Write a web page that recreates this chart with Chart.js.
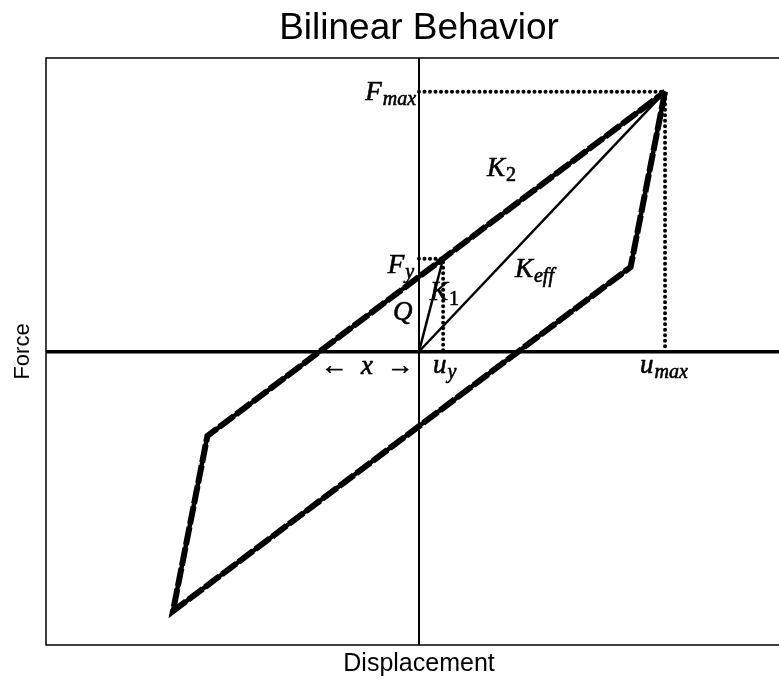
<!DOCTYPE html>
<html>
<head>
<meta charset="utf-8">
<script src="https://cdn.jsdelivr.net/npm/chart.js@4/dist/chart.umd.min.js"></script>
<style>
    html, body { margin: 0; padding: 0; background: #fff; overflow: hidden; }
    #wrap { width: 838px; height: 680px; }
</style>
</head>
<body>
<div id="wrap"><canvas id="myChart" width="838" height="680"></canvas></div>
<script>
// hysteresis loop: displacement / force
const loopX = [10, 8.6, -10, -8.6, 10];
const loopY = [10, 3.25, -10, -3.25, 10];

// initial stiffness K1 and effective stiffness Keff
const k1X = [0, 0.98];
const k1Y = [0, 3.57];
const keffX = [0, 10];
const keffY = [0, 10];

// dotted guides to Fmax / umax and Fy / uy
const fmaxGuideX = [0, 10, 10];
const fmaxGuideY = [10, 10, 0];
const fyGuideX = [0, 0.98, 0.98];
const fyGuideY = [3.57, 3.57, 0];

// math labels
const labelMain = ['F', 'K', 'F', 'K', 'K', 'Q', '\u2190  x  \u2192', 'u', 'u'];
const labelSub = ['max', '2', 'y', '1', 'eff', '', '', 'y', 'max'];
const labelX = [-0.12, 2.76, -0.2, 0.45, 3.9, -1.06, -2.11, 0.57, 8.98];
const labelY = [9.69, 6.77, 3.04, 2.0, 2.85, 1.23, -0.88, -0.81, -0.81];
const labelAlign = ['right', 'left', 'right', 'left', 'left', 'left', 'center', 'left', 'left'];

function pts(xs, ys) {
    return xs.map(function (v, i) { return { x: v, y: ys[i] }; });
}

const frame = {
    id: 'frame',
    afterDraw: function (chart) {
        const a = chart.chartArea;
        const c = chart.ctx;
        c.save();
        c.strokeStyle = '#000';
        c.lineWidth = 1.5;
        c.strokeRect(a.left, a.top, a.right - a.left, a.bottom - a.top);
        c.restore();
    }
};

const mathLabels = {
    id: 'mathLabels',
    afterDatasetsDraw: function (chart) {
        const c = chart.ctx;
        const xs = chart.scales.x, ys = chart.scales.y;
        const mainFont = 'italic 27px "Liberation Serif"';
        c.save();
        c.fillStyle = '#000';
        c.strokeStyle = '#000';
        c.lineWidth = 0.6;
        c.textBaseline = 'alphabetic';
        c.textAlign = 'left';
        labelMain.forEach(function (t, i) {
            const sub = labelSub[i];
            const subFont = (/^\d+$/.test(sub) ? '' : 'italic ') + '20px "Liberation Serif"';
            c.font = mainFont;
            const w1 = c.measureText(t).width + (sub ? 1 : 0);
            c.font = subFont;
            const w2 = sub ? c.measureText(sub).width : 0;
            let px = xs.getPixelForValue(labelX[i]);
            const py = ys.getPixelForValue(labelY[i]);
            if (labelAlign[i] === 'right') px -= w1 + w2;
            if (labelAlign[i] === 'center') px -= (w1 + w2) / 2;
            c.font = mainFont;
            c.fillText(t, px, py);
            c.strokeText(t, px, py);
            if (sub) {
                c.font = subFont;
                c.fillText(sub, px + w1, py + 5);
                c.strokeText(sub, px + w1, py + 5);
            }
        });
        c.restore();
    }
};

function onlyZero(s) { s.ticks = [{ value: 0 }]; }

var ctx = document.getElementById('myChart').getContext('2d');
var myChart = new Chart(ctx, {
    type: 'scatter',
    data: {
        datasets: [
            { data: pts(fmaxGuideX, fmaxGuideY), borderColor: '#000', borderWidth: 4, borderDash: [0, 5.5], borderCapStyle: 'round' },
            { data: pts(fyGuideX, fyGuideY), borderColor: '#000', borderWidth: 4, borderDash: [0, 5.5], borderCapStyle: 'round' },
            { data: pts(k1X, k1Y), borderColor: '#000', borderWidth: 2.5 },
            { data: pts(keffX, keffY), borderColor: '#000', borderWidth: 2.5 },
            { data: pts(loopX, loopY), borderColor: '#000', borderWidth: 4.5 },
            { data: pts(loopX, loopY), borderColor: '#000', borderWidth: 6, borderDash: [18, 3] }
        ]
    },
    options: {
        responsive: false,
        animation: false,
        devicePixelRatio: 1,
        showLine: true,
        elements: { point: { radius: 0 }, line: { tension: 0, fill: false } },
        layout: { padding: 0 },
        plugins: {
            legend: { display: false },
            tooltip: { enabled: false },
            title: {
                display: true,
                text: 'Bilinear Behavior',
                color: '#000',
                font: { family: 'Liberation Sans', size: 37, weight: 'normal', lineHeight: 1.2 },
                padding: { top: 7, bottom: 6.6 }
            }
        },
        scales: {
            x: {
                type: 'linear', min: -15.16, max: 15.16,
                afterBuildTicks: onlyZero,
                afterFit: function (s) { s.height = 35; },
                ticks: { display: false },
                grid: { color: '#000', lineWidth: 2, drawTicks: false },
                border: { display: false },
                title: { display: true, text: 'Displacement', color: '#000', font: { family: 'Liberation Sans', size: 25, lineHeight: 1.2 }, padding: { top: 0, bottom: 1 } }
            },
            y: {
                type: 'linear', min: -11.3, max: 11.3,
                afterBuildTicks: onlyZero,
                afterFit: function (s) { s.width = 46; },
                ticks: { display: false },
                grid: { color: '#000', lineWidth: 3.5, drawTicks: false },
                border: { display: false },
                title: { display: true, text: 'Force', color: '#000', font: { family: 'Liberation Sans', size: 22, lineHeight: 1.2 }, padding: { top: 10, bottom: 0 } }
            },
            y2: {
                type: 'linear', position: 'right', display: true,
                afterFit: function (s) { s.width = 46; },
                ticks: { display: false },
                grid: { display: false },
                border: { display: false }
            }
        }
    },
    plugins: [frame, mathLabels]
});
</script>
</body>
</html>
